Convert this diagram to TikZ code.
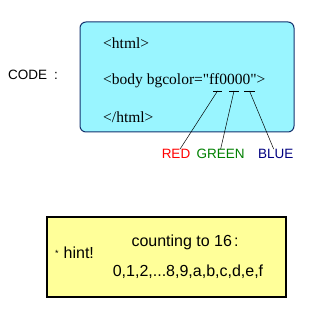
\documentclass[tikz,border=0pt]{standalone}
\usepackage{fontspec}
\setmainfont{Liberation Serif}
\setsansfont{Liberation Sans}
\usetikzlibrary{positioning}
\definecolor{codecyan}{RGB}{153,245,255}
\definecolor{codeedge}{RGB}{20,50,110}
\definecolor{hintyellow}{RGB}{255,255,153}
\definecolor{redlab}{RGB}{255,0,0}
\definecolor{greenlab}{RGB}{0,128,0}
\definecolor{bluelab}{RGB}{0,0,128}
\tikzset{
  codebox/.style={draw=codeedge,fill=codecyan,rounded corners=6pt,line width=1pt},
  hintbox/.style={draw=black,fill=hintyellow,line width=1.3pt},
  html/.style={font=\fontsize{15.5}{18}\selectfont,anchor=west,inner sep=0pt},
  lab/.style={font=\sffamily\fontsize{13.5}{16}\selectfont,inner sep=0pt},
  hint/.style={font=\sffamily\fontsize{16}{19}\selectfont,inner sep=0pt},
  tick/.style={line width=0.8pt},
  pointer/.style={line width=0.5pt}
}

\begin{document}
\begin{tikzpicture}[x=1pt,y=-1pt]
  \useasboundingbox (0,0) rectangle (320,320);
  % code side
  \node[lab,anchor=west] (code) at (8,75) {CODE\hspace{7pt}:};
  \draw[codebox] (80,22) rectangle (294,132);
  \node[html] (open) at (103,43) {<html>};
  \node[html] (body) at (103,81) {<body bgcolor=\textquotedbl ff0000\textquotedbl>};
  \node[html] (close) at (103,117) {</html>};

  % colour pairs
  \draw[tick] (213,91) -- (222,91) coordinate[midway] (ffr);
  \draw[tick] (229,91) -- (239,91) coordinate[midway] (ffg);
  \draw[tick] (244,91) -- (255,91) coordinate[midway] (ffb);
  \node[lab,text=redlab] (red) at (176,154) {RED};
  \node[lab,text=greenlab,right=6pt of red] (green) {GREEN};
  \node[lab,text=bluelab,right=13pt of green] (blue) {BLUE};
  \draw[pointer] (ffr) -- ([xshift=4pt]red.north);
  \draw[pointer] (ffg) -- (green.north);
  \draw[pointer] (ffb) -- ([xshift=-2pt]blue.north);

  % hint
  \draw[hintbox] (47,217) rectangle (286,297);
  \node[hint,anchor=west] (star) at (55,253) {\raisebox{2pt}{\fontsize{9}{9}\selectfont*}\hspace{5pt}hint!};
  \node[hint] (count) at (185,242) {counting to 16\hspace{2pt}:};
  \node[hint] (digits) at (188,272) {0,1,2,...8,9,a,b,c,d,e,f};
\end{tikzpicture}
\end{document}
